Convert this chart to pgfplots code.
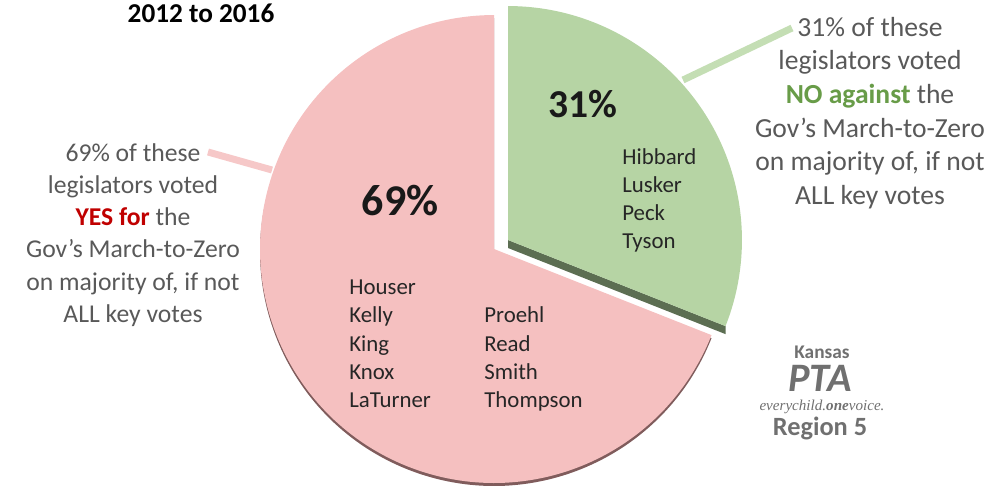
\documentclass[border=0pt]{standalone}
\usepackage{pgfplots}
\pgfplotsset{compat=1.18}
\usepackage{pgfplotstable}
\usepackage{fontspec}
\setmainfont{Carlito}
\newfontfamily\logoserif{Liberation Serif}

\definecolor{pinkfill}{RGB}{245,192,192}
\definecolor{pinkline}{RGB}{246,200,200}
\definecolor{pinkshadow}{RGB}{128,92,92}
\definecolor{greenfill}{RGB}{182,212,164}
\definecolor{greenline}{RGB}{196,222,180}
\definecolor{greenshadow}{RGB}{92,110,82}
\definecolor{txtgray}{RGB}{89,89,89}
\definecolor{yesred}{RGB}{192,0,0}
\definecolor{nogreen}{RGB}{104,156,72}
\definecolor{logogray}{RGB}{112,112,112}

% share of key votes, 2012 to 2016
\pgfplotstableread{
group value
Yes 69
No  31
}\votes
\pgfplotstablegetelem{0}{value}\of\votes\let\yesval\pgfplotsretval
\pgfplotstablegetelem{1}{value}\of\votes\let\noval\pgfplotsretval
\pgfmathsetmacro\splitang{90-3.6*\noval}
\pgfmathsetmacro\endang{\splitang-3.6*\yesval}
\def\pierad{4.68cm}

\tikzset{namestyle/.style={anchor=base west, inner sep=0, font=\fontsize{13}{15}\selectfont, text=black!85}}

\begin{document}
\begin{tikzpicture}
\begin{axis}[x=0.02cm, y=0.02cm, xmin=0, xmax=988, ymin=0, ymax=485,
  hide axis, clip=false]
\coordinate (bl) at (axis cs:0,0);
\coordinate (tr) at (axis cs:988,485);

% yes slice with its rim shadow
\fill[pinkshadow] (axis cs:494,233) -- ++(\splitang:\pierad)
  arc[start angle=\splitang, end angle=\endang, radius=\pierad] -- cycle;
\fill[pinkfill] (axis cs:494,236) -- ++(\splitang:\pierad)
  arc[start angle=\splitang, end angle=\endang, radius=\pierad] -- cycle;

% no slice, pulled out, shadow under its lower edge
\fill[greenshadow] (axis cs:508,245) -- ++(\splitang:\pierad) -- ++(0,-0.16cm)
  -- ++(\splitang+180:\pierad) -- cycle;
\fill[greenfill] (axis cs:508,245) -- ++(90:\pierad)
  arc[start angle=90, end angle=\splitang, radius=\pierad] -- cycle;

% callout lines
\draw[greenline, line width=0.14cm] (axis cs:683,405) -- (axis cs:792,457);
\draw[pinkline, line width=0.14cm] (axis cs:208,333) -- (axis cs:272,315);

% title
\node[anchor=base, font=\fontsize{15.5}{18}\selectfont\bfseries] at (axis cs:201,463) {2012 to 2016};

% callout texts
\node[align=center, text=txtgray, font=\fontsize{15.7}{19.2}\selectfont] at (axis cs:870,372)
  {31\% of these\\legislators voted\\{\bfseries\color{nogreen}NO against} the\\Gov’s March-to-Zero\\on majority of, if not\\ALL key votes};
\node[align=center, text=txtgray, font=\fontsize{14.6}{18.3}\selectfont] at (axis cs:133,250)
  {69\% of these\\legislators voted\\{\bfseries\color{yesred}YES for} the\\Gov’s March-to-Zero\\on majority of, if not\\ALL key votes};

% slice labels
\node[font=\fontsize{22.5}{24}\selectfont\bfseries, text=black!90] at (axis cs:583,381) {31\%};
\node[font=\fontsize{25}{28}\selectfont\bfseries, text=black!90] at (axis cs:400,284) {69\%};

% names
\node[namestyle] at (axis cs:622,321) {Hibbard};
\node[namestyle] at (axis cs:622,293) {Lusker};
\node[namestyle] at (axis cs:622,265) {Peck};
\node[namestyle] at (axis cs:622,237) {Tyson};
\node[namestyle] at (axis cs:349,191) {Houser};
\node[namestyle] at (axis cs:349,162.5) {Kelly};
\node[namestyle] at (axis cs:349,134) {King};
\node[namestyle] at (axis cs:349,106) {Knox};
\node[namestyle] at (axis cs:349,78) {LaTurner};
\node[namestyle] at (axis cs:484,162.5) {Proehl};
\node[namestyle] at (axis cs:484,134) {Read};
\node[namestyle] at (axis cs:484,106) {Smith};
\node[namestyle] at (axis cs:484,78) {Thompson};

% logo
\node[inner sep=0, text=logogray, font=\fontsize{11}{12}\selectfont\bfseries] at (axis cs:822,133) {Kansas};
\node[inner sep=0, text=logogray, font=\fontsize{23}{24}\selectfont\bfseries\itshape] at (axis cs:820,107) {PTA};
\node[inner sep=0, text=logogray, font=\fontsize{8.6}{9}\selectfont\logoserif\itshape] at (axis cs:822,78) {everychild.\textbf{one}voice.};
\node[inner sep=0, text=logogray, font=\fontsize{15}{16}\selectfont\bfseries] at (axis cs:820,57) {Region 5};
\end{axis}
\pgfresetboundingbox
\path (bl) rectangle (tr);
\end{tikzpicture}
\end{document}
